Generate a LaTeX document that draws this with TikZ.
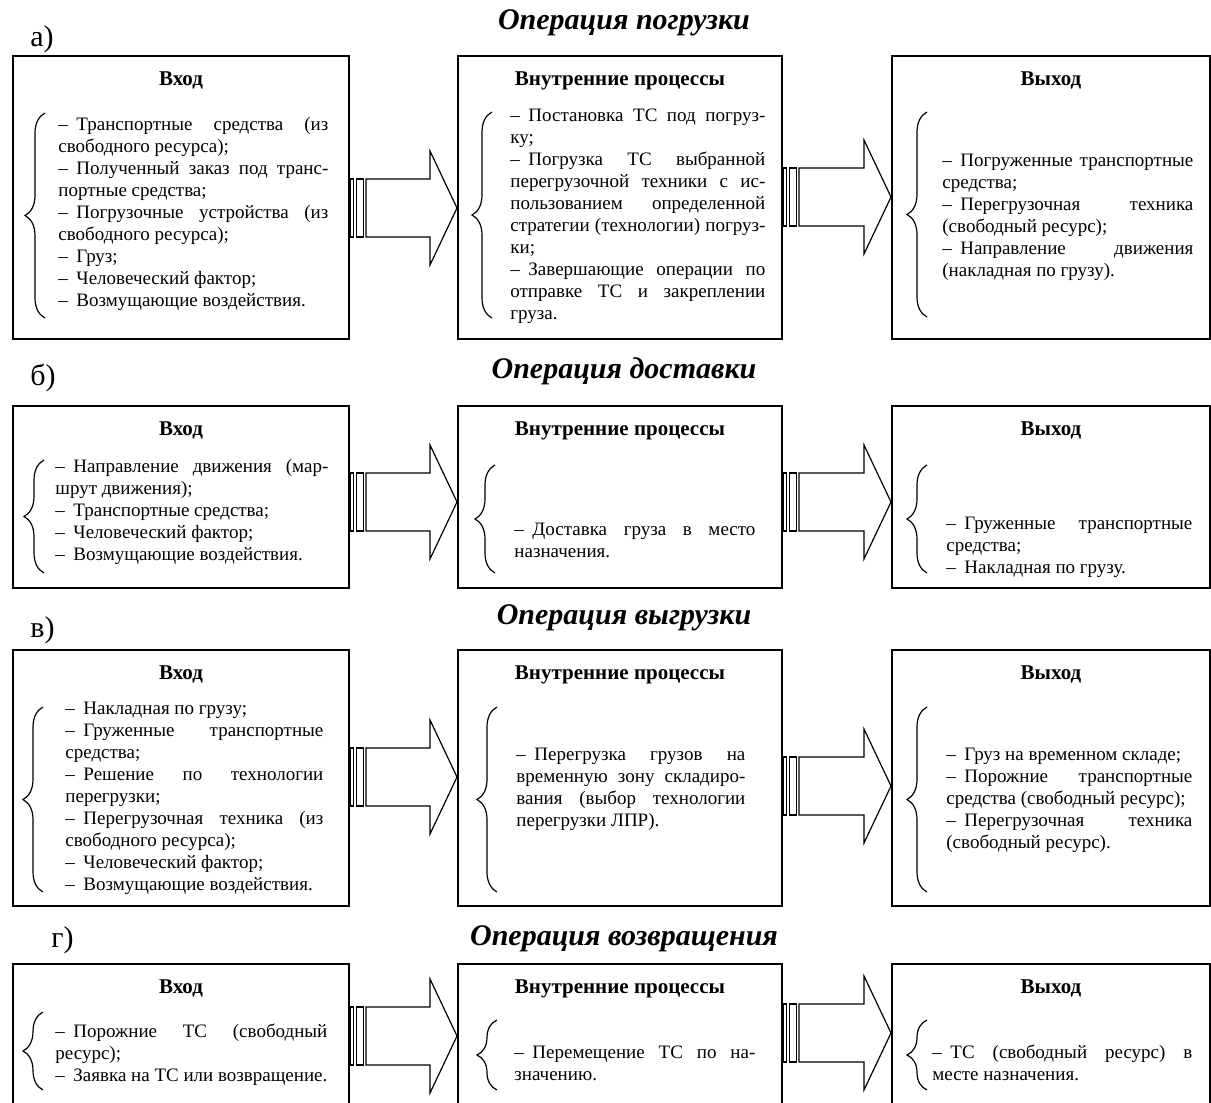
\documentclass[tikz,border=0pt]{standalone}
\usepackage{fontspec}
\setmainfont{Liberation Serif}
\usetikzlibrary{positioning}
\usetikzlibrary{calc}
\usetikzlibrary{decorations.pathreplacing}
\tolerance=10000
\hbadness=10000
\hyphenpenalty=10000
\exhyphenpenalty=10000
\newcommand\TxtSpace{\leftskip=0pt\relax\rightskip=0pt\relax
  \parfillskip=0pt plus 1fil\relax\spaceskip=.25em plus .6em minus .12em\relax}
\tikzstyle{BoxOp}=[draw,line width=1pt,inner sep=0pt,anchor=north west]
\tikzstyle{TitleOp}=[inner sep=0pt,font=\bfseries\fontsize{10.5}{12}\selectfont]
\tikzstyle{TextOp}=[inner sep=0pt,anchor=west,font=\fontsize{9.5}{11}\selectfont,
  execute at begin node=\TxtSpace]
\tikzstyle{HeadOp}=[inner sep=0pt,font=\bfseries\itshape\fontsize{15}{17}\selectfont]
\tikzstyle{LabelOp}=[inner sep=0pt,anchor=west,font=\fontsize{15}{17}\selectfont]
\tikzstyle{BraceOp}=[decorate,decoration={brace,amplitude=10pt},line width=0.6pt]
\tikzstyle{ArrowOp}=[line width=0.6pt,line join=miter]
\newcommand\dsh{–\kern.45em}
\newcommand\Item{\par\noindent\dsh}
\newcommand\nl{\linebreak}
% striped block arrow from box #1 to box #2 at height #3
\newcommand\BlockArrow[3]{%
  \coordinate (#1s) at (#1.east |- 0,#3);
  \coordinate (#2t) at (#2.west |- 0,#3);
  \draw[ArrowOp] ($(#1s)+(0,-29)$) rectangle ($(#1s)+(3.5,29)$);
  \draw[ArrowOp] ($(#1s)+(6.5,-29)$) rectangle ($(#1s)+(13.5,29)$);
  \draw[ArrowOp] ($(#1s)+(16,-29)$) -- ($(#2t)+(-27,-29)$) -- ($(#2t)+(-27,-57)$)
    -- (#2t) -- ($(#2t)+(-27,57)$) -- ($(#2t)+(-27,29)$) -- ($(#1s)+(16,29)$) -- cycle;
}
\begin{document}
\begin{tikzpicture}[x=0.5pt,y=-0.5pt]
\useasboundingbox (0,0) rectangle (1211,1103);
\clip (0,0) rectangle (1211,1103);

% a) loading
\node[LabelOp] (la) at (30,39) {а)};
\node[HeadOp] (ha) at (624,23) {Операция погрузки};
\node[BoxOp,minimum width=168pt,minimum height=141.5pt] (ina) at (12,55) {};
\node[BoxOp,minimum width=162pt,minimum height=141.5pt] (pra) at (457,55) {};
\node[BoxOp,minimum width=159pt,minimum height=141.5pt] (outa) at (891,55) {};
\node[TitleOp,below=8pt of ina.north] (tina) {Вход};
\node[TitleOp,below=8pt of pra.north] (tpra) {Внутренние процессы};
\node[TitleOp,below=8pt of outa.north] (touta) {Выход};
\draw[BraceOp] (45,318) -- (45,113);
\draw[BraceOp] (492,318) -- (492,112);
\draw[BraceOp] (927,317) -- (927,112);
\node[TextOp,text width=135pt] (xina) at (58,214) {%
  \dsh Транспортные средства (из\nl свободного ресурса);
  \Item Полученный заказ под транс-\nl портные средства;
  \Item Погрузочные устройства (из\nl свободного ресурса);
  \Item Груз;
  \Item Человеческий фактор;
  \Item Возмущающие воздействия.};
\node[TextOp,text width=127.5pt] (xpra) at (510,216) {%
  \dsh Постановка ТС под погруз-\nl ку;
  \Item Погрузка ТС выбранной\nl перегрузочной техники с ис-\nl
  пользованием определенной\nl стратегии (технологии) погруз-\nl ки;
  \Item Завершающие операции по\nl отправке ТС и закреплении\nl груза.};
\node[TextOp,text width=125.5pt] (xouta) at (942,217) {%
  \dsh Погруженные транспортные\nl средства;
  \Item Перегрузочная техника\nl (свободный ресурс);
  \Item Направление движения\nl (накладная по грузу).};
\BlockArrow{ina}{pra}{208}
\BlockArrow{pra}{outa}{197}

% b) delivery
\node[LabelOp] (lb) at (30,378) {б)};
\node[HeadOp] (hb) at (624,371) {Операция доставки};
\node[BoxOp,minimum width=168pt,minimum height=91pt] (inb) at (12,405) {};
\node[BoxOp,minimum width=162pt,minimum height=91pt] (prb) at (457,405) {};
\node[BoxOp,minimum width=159pt,minimum height=91pt] (outb) at (891,405) {};
\node[TitleOp,below=8pt of inb.north] (tinb) {Вход};
\node[TitleOp,below=8pt of prb.north] (tprb) {Внутренние процессы};
\node[TitleOp,below=8pt of outb.north] (toutb) {Выход};
\draw[BraceOp] (44,573) -- (44,460);
\draw[BraceOp] (495,573) -- (495,465);
\draw[BraceOp] (927,573) -- (927,465);
\node[TextOp,text width=136.5pt] (xinb) at (55,512) {%
  \dsh Направление движения (мар-\nl шрут движения);
  \Item Транспортные средства;
  \Item Человеческий фактор;
  \Item Возмущающие воздействия.};
\node[TextOp,text width=120.5pt] (xprb) at (514,540) {%
  \dsh Доставка груза в место\nl назначения.};
\node[TextOp,text width=123pt] (xoutb) at (946,547) {%
  \dsh Груженные транспортные\nl средства;
  \Item Накладная по грузу.};
\BlockArrow{inb}{prb}{502}
\BlockArrow{prb}{outb}{502}

% c) unloading
\node[LabelOp] (lc) at (30,630) {в)};
\node[HeadOp] (hc) at (624,618) {Операция выгрузки};
\node[BoxOp,minimum width=168pt,minimum height=128pt] (inc) at (12,649) {};
\node[BoxOp,minimum width=162pt,minimum height=128pt] (prc) at (457,649) {};
\node[BoxOp,minimum width=159pt,minimum height=128pt] (outc) at (891,649) {};
\node[TitleOp,below=8pt of inc.north] (tinc) {Вход};
\node[TitleOp,below=8pt of prc.north] (tprc) {Внутренние процессы};
\node[TitleOp,below=8pt of outc.north] (toutc) {Выход};
\draw[BraceOp] (43,892) -- (43,707);
\draw[BraceOp] (497,892) -- (497,707);
\draw[BraceOp] (927,892) -- (927,707);
\node[TextOp,text width=129pt] (xinc) at (65,798) {%
  \dsh Накладная по грузу;
  \Item Груженные транспортные\nl средства;
  \Item Решение по технологии\nl перегрузки;
  \Item Перегрузочная техника (из\nl свободного ресурса);
  \Item Человеческий фактор;
  \Item Возмущающие воздействия.};
\node[TextOp,text width=114.5pt] (xprc) at (516,789) {%
  \dsh Перегрузка грузов на\nl временную зону складиро-\nl
  вания (выбор технологии\nl перегрузки ЛПР).};
\node[TextOp,text width=123pt] (xoutc) at (946,800) {%
  \dsh Груз на временном складе;
  \Item Порожние транспортные\nl средства (свободный ресурс);
  \Item Перегрузочная техника\nl (свободный ресурс).};
\BlockArrow{inc}{prc}{777}
\BlockArrow{prc}{outc}{786}

% d) return
\node[LabelOp] (ld) at (51,940) {г)};
\node[HeadOp] (hd) at (624,939) {Операция возвращения};
\node[BoxOp,minimum width=168pt,minimum height=85pt] (ind) at (12,963) {};
\node[BoxOp,minimum width=162pt,minimum height=85pt] (prd) at (457,963) {};
\node[BoxOp,minimum width=159pt,minimum height=85pt] (outd) at (891,963) {};
\node[TitleOp,below=8pt of ind.north] (tind) {Вход};
\node[TitleOp,below=8pt of prd.north] (tprd) {Внутренние процессы};
\node[TitleOp,below=8pt of outd.north] (toutd) {Выход};
\draw[BraceOp] (43,1090) -- (43,1012);
\draw[BraceOp] (497,1090) -- (497,1020);
\draw[BraceOp] (927,1090) -- (927,1020);
\node[TextOp,text width=136pt] (xind) at (55,1055) {%
  \dsh Порожние ТС (свободный\nl ресурс);
  \Item Заявка на ТС или возвращение.};
\node[TextOp,text width=120.5pt] (xprd) at (514,1063) {%
  \dsh Перемещение ТС по на-\nl значению.};
\node[TextOp,text width=130pt] (xoutd) at (932,1063) {%
  \dsh ТС (свободный ресурс) в\nl месте назначения.};
\BlockArrow{ind}{prd}{1036}
\BlockArrow{prd}{outd}{1033}
\end{tikzpicture}
\end{document}
